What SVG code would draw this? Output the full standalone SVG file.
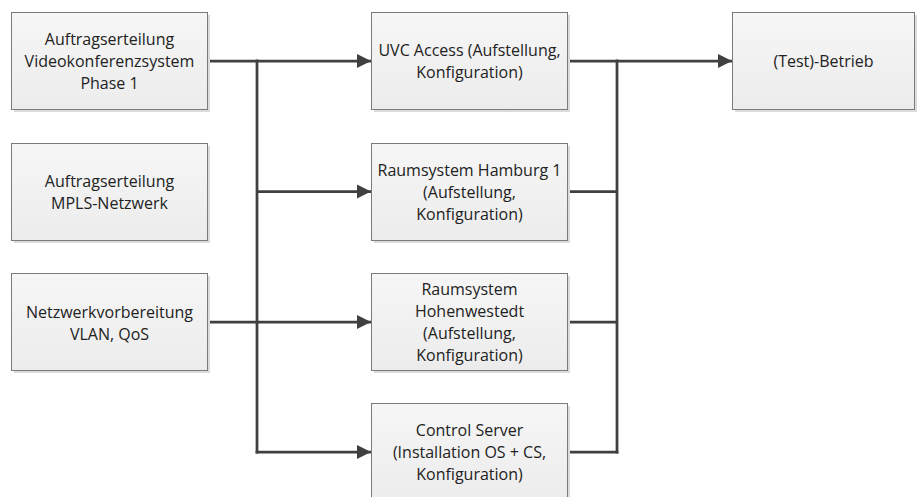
<svg xmlns="http://www.w3.org/2000/svg" width="917" height="497" viewBox="0 0 917 497">
  <defs>
    <linearGradient id="boxFill" x1="0" y1="0" x2="0" y2="1">
      <stop offset="0" stop-color="#f6f6f6"/>
      <stop offset="1" stop-color="#ececec"/>
    </linearGradient>
    <marker id="arrow" markerUnits="userSpaceOnUse" markerWidth="16" markerHeight="16" viewBox="0 0 16 16" refX="15" refY="8" orient="auto">
      <path d="M1,1 L15,8 L1,15 Z" fill="#404040"/>
    </marker>
  </defs>
  <style>
    .box { fill: url(#boxFill); stroke: #7a7a7a; stroke-width: 1; }
    .shadow { fill: #dcdcdc; }
    .label { font-family: "Open Sans", "Noto Sans", "Liberation Sans", sans-serif; font-size: 16px; fill: #222222; text-anchor: middle; dominant-baseline: central; }
    .wire { fill: none; stroke: #404040; stroke-width: 2.75; }
    .arrowed { marker-end: url(#arrow); }
  </style>
  <rect width="917" height="497" fill="#ffffff"/>

  <!-- connectors -->
  <g id="connectors">
    <line class="wire" x1="207" y1="61" x2="257" y2="61"/>
    <line class="wire" x1="257" y1="59.6" x2="257" y2="453.4"/>
    <line class="wire arrowed" x1="257" y1="61" x2="371" y2="61"/>
    <line class="wire arrowed" x1="257" y1="191.5" x2="371" y2="191.5"/>
    <line class="wire arrowed" x1="207" y1="322" x2="371" y2="322"/>
    <line class="wire arrowed" x1="255.6" y1="452" x2="371" y2="452"/>
    <line class="wire" x1="568" y1="61" x2="617" y2="61"/>
    <line class="wire" x1="568" y1="191.5" x2="617" y2="191.5"/>
    <line class="wire" x1="568" y1="322" x2="617" y2="322"/>
    <line class="wire" x1="568" y1="452" x2="618.4" y2="452"/>
    <line class="wire" x1="617" y1="59.6" x2="617" y2="453.4"/>
    <line class="wire arrowed" x1="617" y1="61" x2="732" y2="61"/>
  </g>

  <g id="auftrag-vks">
    <rect class="shadow" x="14" y="15" width="196" height="97"/>
    <rect class="box" x="11.5" y="12.5" width="196" height="97"/>
    <text class="label" x="109.5" y="39">Auftragserteilung</text>
    <text class="label" x="109.5" y="61">Videokonferenzsystem</text>
    <text class="label" x="109.5" y="83">Phase 1</text>
  </g>

  <g id="auftrag-mpls">
    <rect class="shadow" x="14" y="146" width="196" height="97"/>
    <rect class="box" x="11.5" y="143.5" width="196" height="97"/>
    <text class="label" x="109.5" y="181">Auftragserteilung</text>
    <text class="label" x="109.5" y="203">MPLS-Netzwerk</text>
  </g>

  <g id="netzwerk">
    <rect class="shadow" x="14" y="276" width="196" height="97"/>
    <rect class="box" x="11.5" y="273.5" width="196" height="97"/>
    <text class="label" x="109.5" y="312">Netzwerkvorbereitung</text>
    <text class="label" x="109.5" y="334">VLAN, QoS</text>
  </g>

  <g id="uvc-access">
    <rect class="shadow" x="374" y="15" width="196" height="97"/>
    <rect class="box" x="371.5" y="12.5" width="196" height="97"/>
    <text class="label" x="469.5" y="50">UVC Access (Aufstellung,</text>
    <text class="label" x="469.5" y="72">Konfiguration)</text>
  </g>

  <g id="raum-hamburg">
    <rect class="shadow" x="374" y="146" width="196" height="97"/>
    <rect class="box" x="371.5" y="143.5" width="196" height="97"/>
    <text class="label" x="469.5" y="169.5">Raumsystem Hamburg 1</text>
    <text class="label" x="469.5" y="191.5">(Aufstellung,</text>
    <text class="label" x="469.5" y="213.5">Konfiguration)</text>
  </g>

  <g id="raum-hohenwestedt">
    <rect class="shadow" x="374" y="276" width="196" height="97"/>
    <rect class="box" x="371.5" y="273.5" width="196" height="97"/>
    <text class="label" x="469.5" y="288.5">Raumsystem</text>
    <text class="label" x="469.5" y="310.5">Hohenwestedt</text>
    <text class="label" x="469.5" y="332.5">(Aufstellung,</text>
    <text class="label" x="469.5" y="354.5">Konfiguration)</text>
  </g>

  <g id="control-server">
    <rect class="shadow" x="374" y="406" width="196" height="97"/>
    <rect class="box" x="371.5" y="403.5" width="196" height="97"/>
    <text class="label" x="469.5" y="430">Control Server</text>
    <text class="label" x="469.5" y="452">(Installation OS + CS,</text>
    <text class="label" x="469.5" y="474">Konfiguration)</text>
  </g>

  <g id="test-betrieb">
    <rect class="shadow" x="735" y="15" width="183" height="97"/>
    <rect class="box" x="732.5" y="12.5" width="182" height="97"/>
    <text class="label" x="823.5" y="61">(Test)-Betrieb</text>
  </g>
</svg>
